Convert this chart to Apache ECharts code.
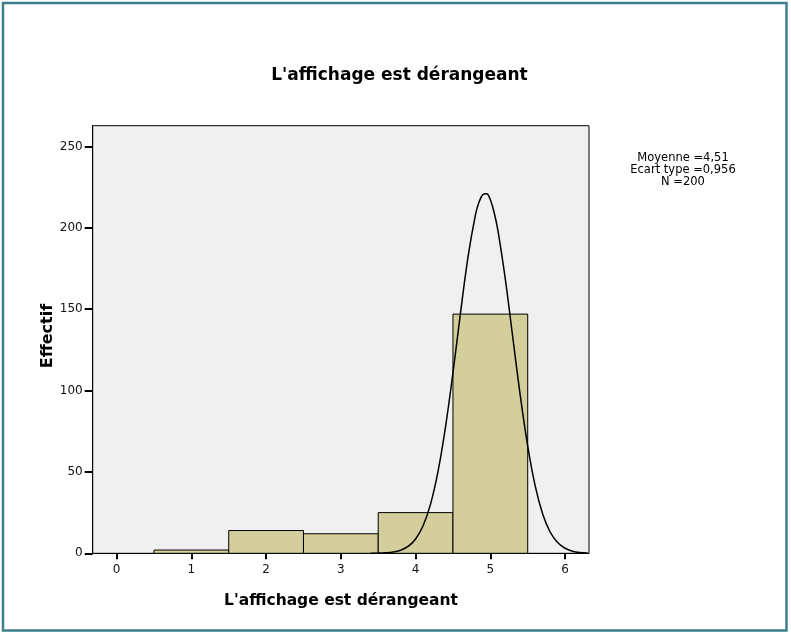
<!DOCTYPE html>
<html>
<head>
<meta charset="utf-8">
<script src="https://cdn.jsdelivr.net/npm/echarts@6/dist/echarts.min.js"></script>
<style>
html,body{margin:0;padding:0;background:#fff;}
#chart{width:791px;height:636px;}
</style>
</head>
<body>
<div id="chart"></div>
<script>
// ---- data ----
var title = "L'affichage est dérangeant";
var xAxisName = "L'affichage est dérangeant";
var yAxisName = "Effectif";
var binCenters = [1, 2, 3, 4, 5];
var binCounts = [2, 14, 12, 25, 147];
var binWidth = 1;
var xTicks = [0, 1, 2, 3, 4, 5, 6];
var yTicks = [0, 50, 100, 150, 200, 250];
var curveX = [3.4, 3.5, 3.6, 3.7, 3.8, 3.9, 4.0, 4.1, 4.2, 4.3, 4.4, 4.5, 4.6, 4.7, 4.8, 4.85, 4.9, 4.95, 5.0, 5.05, 5.1, 5.2, 5.3, 5.4, 5.5, 5.6, 5.7, 5.8, 5.9, 6.0, 6.1, 6.2, 6.3];
var curveY = [0.03, 0.1, 0.3, 0.8, 1.9, 4.2, 8.8, 16.9, 30.2, 50.3, 77.6, 111.0, 147.4, 181.7, 207.8, 216.0, 220.5, 221.0, 217.3, 209.6, 198.7, 168.6, 132.8, 97.0, 65.8, 41.4, 24.2, 13.1, 6.6, 3.1, 1.3, 0.5, 0.2];
var statsLines = ["Moyenne =4,51", "Ecart type =0,956", "N =200"];

var histData = binCenters.map(function (c, i) { return [c - binWidth / 2, c + binWidth / 2, binCounts[i]]; });
var curveData = curveX.map(function (x, i) { return [x, curveY[i]]; });

var chart = echarts.init(document.getElementById('chart'), null, {renderer: 'canvas'});
var FONT = 'DejaVu Sans';
var option = {
  animation: false,
  backgroundColor: '#ffffff',
  grid: {
    left: 92.7, top: 125.7, width: 496.3, height: 427.6,
    show: true, backgroundColor: '#f0f0f0', borderColor: '#000', borderWidth: 1
  },
  xAxis: {
    type: 'value', min: -0.32, max: 6.32,
    axisLine: {show: true, onZero: false, lineStyle: {color: '#000', width: 1}},
    axisTick: {show: true, length: 6, customValues: xTicks, lineStyle: {color: '#000', width: 2}},
    axisLabel: {show: true, customValues: xTicks, margin: 11, color: '#111', fontFamily: FONT, fontSize: 12},
    splitLine: {show: false}
  },
  yAxis: {
    type: 'value', min: 0, max: 262.8,
    axisLine: {show: true, onZero: false, lineStyle: {color: '#000', width: 1}},
    axisTick: {show: true, length: 8, customValues: yTicks, lineStyle: {color: '#000', width: 2}},
    axisLabel: {show: true, customValues: yTicks, margin: 10, color: '#111', fontFamily: FONT, fontSize: 12},
    splitLine: {show: false}
  },
  series: [
    {
      type: 'custom',
      data: histData,
      renderItem: function (params, api) {
        var p0 = api.coord([api.value(0), api.value(2)]);
        var p1 = api.coord([api.value(1), 0]);
        return {
          type: 'rect',
          shape: {x: p0[0], y: p0[1], width: p1[0] - p0[0], height: p1[1] - p0[1]},
          style: {fill: '#d3ce9b', stroke: '#000', lineWidth: 1}
        };
      },
      encode: {x: [0, 1], y: 2},
      z: 2
    },
    {
      type: 'line',
      data: curveData,
      smooth: 0.35,
      showSymbol: false,
      symbol: 'none',
      lineStyle: {color: '#000', width: 1.5},
      z: 3
    }
  ],
  graphic: [
    {type: 'rect', shape: {x: 3, y: 3, width: 783.5, height: 627.5}, style: {fill: null, stroke: '#3d7f8c', lineWidth: 2.5}, z: 100},
    {type: 'text', x: 399.5, y: 75.5, style: {text: title, font: 'bold 17px "DejaVu Sans"', fill: '#000', align: 'center', verticalAlign: 'middle'}},
    {type: 'text', x: 341, y: 600.5, style: {text: xAxisName, font: 'bold 15.5px "DejaVu Sans"', fill: '#000', align: 'center', verticalAlign: 'middle'}},
    {type: 'text', x: 48, y: 336, rotation: Math.PI / 2, style: {text: yAxisName, font: 'bold 16px "DejaVu Sans"', fill: '#000', align: 'center', verticalAlign: 'middle'}},
    {type: 'text', x: 683, y: 170, style: {text: statsLines.join('\n'), font: '11.5px "DejaVu Sans"', lineHeight: 12, fill: '#000', align: 'center', verticalAlign: 'middle'}}
  ]
};
chart.setOption(option);
</script>
</body>
</html>
